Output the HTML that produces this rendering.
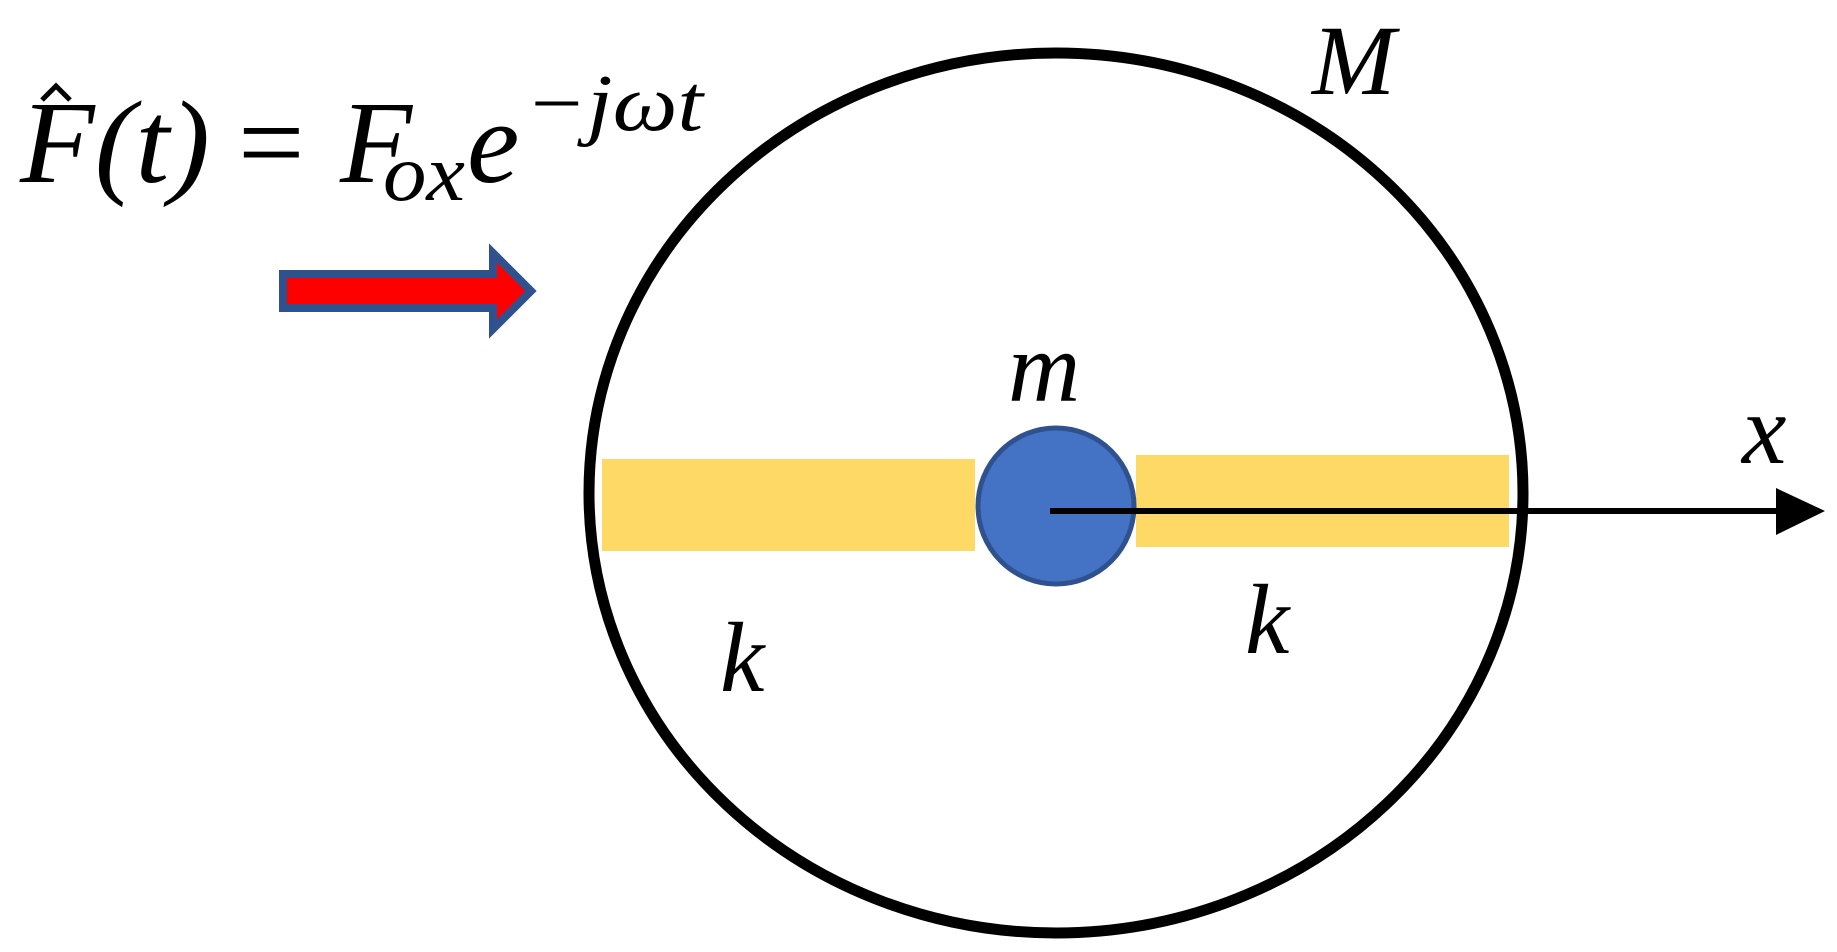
<!DOCTYPE html>
<html><head><style>html,body{margin:0;padding:0;background:#fff;}svg{display:block}</style></head>
<body>
<svg width="1837" height="952" viewBox="0 0 1837 952" xmlns="http://www.w3.org/2000/svg">
<rect x="602" y="459" width="373" height="92" fill="#FFD966"/>
<rect x="1136" y="455" width="373" height="92" fill="#FFD966"/>
<ellipse cx="1056" cy="493" rx="467" ry="440" fill="none" stroke="#000" stroke-width="11"/>
<circle cx="1056" cy="506" r="78" fill="#4472C4" stroke="#2F528F" stroke-width="5"/>
<line x1="1050" y1="511" x2="1780" y2="511" stroke="#000" stroke-width="6"/>
<polygon points="1776,488 1825,511 1776,535" fill="#000"/>
<polygon points="283,274 493,274 493,253 531,291 493,329 493,308 283,308" fill="#FF0000" stroke="#2F528F" stroke-width="8" stroke-linejoin="miter"/>
<g font-family="Liberation Serif, serif" font-style="italic" fill="#000">
<text x="20" y="182" font-size="118" textLength="190" lengthAdjust="spacingAndGlyphs">F(t)</text>
<polyline points="42,100 56,86 70,100" fill="none" stroke="#000" stroke-width="5"/>
<text x="238" y="182" font-size="118" font-style="normal">=</text>
<text x="340" y="182" font-size="118">F</text>
<text x="383" y="200" font-size="80" textLength="82" lengthAdjust="spacingAndGlyphs">ox</text>
<text x="467" y="182" font-size="118">e</text>
<text x="525" y="130" font-size="80" textLength="178" lengthAdjust="spacingAndGlyphs">−jωt</text>
<text x="1312" y="94" font-size="100">M</text>
<text x="1008" y="401" font-size="100">m</text>
<text x="1742" y="463" font-size="100">x</text>
<text x="720" y="691" font-size="100">k</text>
<text x="1245" y="653" font-size="100">k</text>
</g>
</svg>
</body></html>
